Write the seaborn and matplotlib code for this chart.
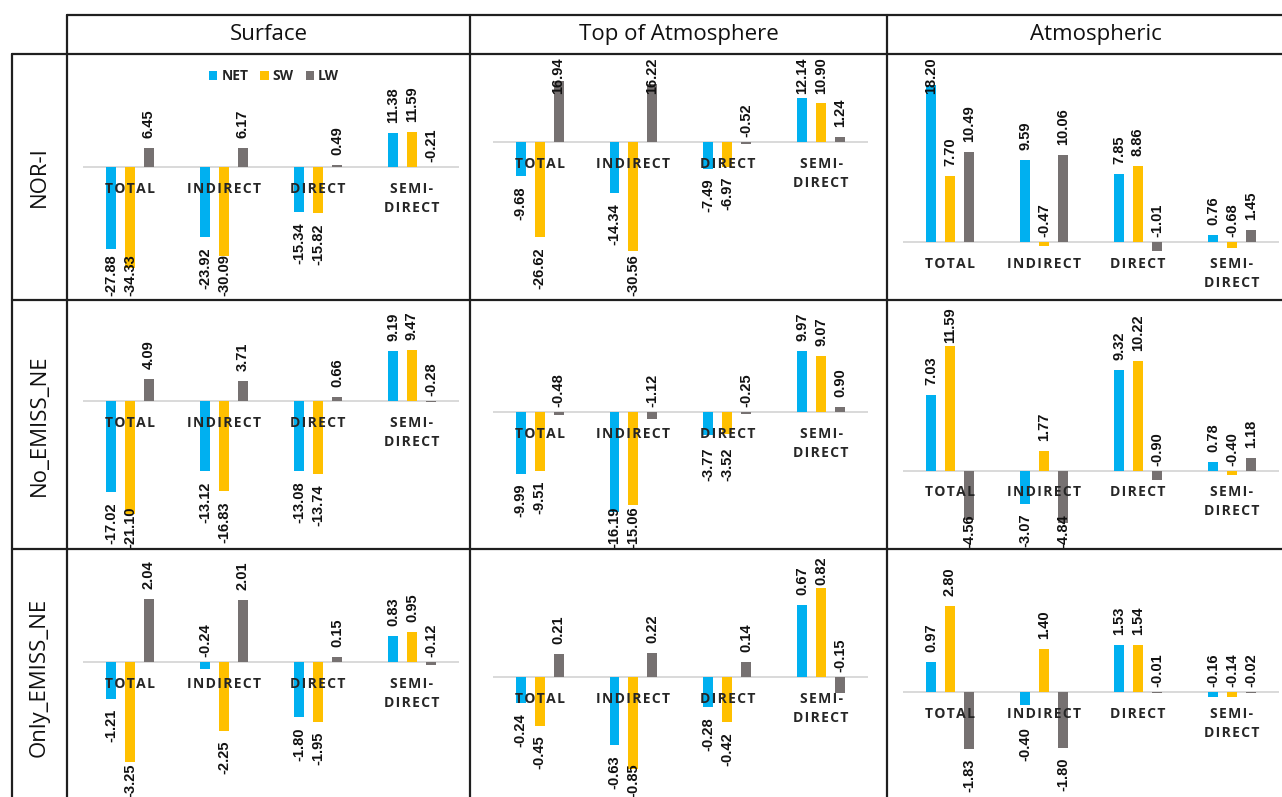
import matplotlib
matplotlib.use("Agg")
import matplotlib.pyplot as plt
import numpy as np
import pandas as pd
import seaborn as sns
from matplotlib.lines import Line2D
from matplotlib.patches import Patch

# ---------------------------------------------------------------- data
experiments = ["NOR-I", "No_EMISS_NE", "Only_EMISS_NE"]
levels = ["Surface", "Top of Atmosphere", "Atmospheric"]
categories = ["TOTAL", "INDIRECT", "DIRECT", "SEMI-DIRECT"]
components = ["NET", "SW", "LW"]

# radiative forcing (W m-2), order follows `categories`
nor_i_surface = {"NET": [-27.88, -23.92, -15.34, 11.38],
                 "SW": [-34.33, -30.09, -15.82, 11.59],
                 "LW": [6.45, 6.17, 0.49, -0.21]}
nor_i_toa = {"NET": [-9.68, -14.34, -7.49, 12.14],
             "SW": [-26.62, -30.56, -6.97, 10.90],
             "LW": [16.94, 16.22, -0.52, 1.24]}
nor_i_atm = {"NET": [18.20, 9.59, 7.85, 0.76],
             "SW": [7.70, -0.47, 8.86, -0.68],
             "LW": [10.49, 10.06, -1.01, 1.45]}

no_emiss_surface = {"NET": [-17.02, -13.12, -13.08, 9.19],
                    "SW": [-21.10, -16.83, -13.74, 9.47],
                    "LW": [4.09, 3.71, 0.66, -0.28]}
no_emiss_toa = {"NET": [-9.99, -16.19, -3.77, 9.97],
                "SW": [-9.51, -15.06, -3.52, 9.07],
                "LW": [-0.48, -1.12, -0.25, 0.90]}
no_emiss_atm = {"NET": [7.03, -3.07, 9.32, 0.78],
                "SW": [11.59, 1.77, 10.22, -0.40],
                "LW": [-4.56, -4.84, -0.90, 1.18]}

only_emiss_surface = {"NET": [-1.21, -0.24, -1.80, 0.83],
                      "SW": [-3.25, -2.25, -1.95, 0.95],
                      "LW": [2.04, 2.01, 0.15, -0.12]}
only_emiss_toa = {"NET": [-0.24, -0.63, -0.28, 0.67],
                  "SW": [-0.45, -0.85, -0.42, 0.82],
                  "LW": [0.21, 0.22, 0.14, -0.15]}
only_emiss_atm = {"NET": [0.97, -0.40, 1.53, -0.16],
                  "SW": [2.80, 1.40, 1.54, -0.14],
                  "LW": [-1.83, -1.80, -0.01, -0.02]}

panels = [[nor_i_surface, nor_i_toa, nor_i_atm],
          [no_emiss_surface, no_emiss_toa, no_emiss_atm],
          [only_emiss_surface, only_emiss_toa, only_emiss_atm]]

# value-axis range of each panel
y_limits = [[(-40, 20), (-40, 20), (-5, 20)],
            [(-25, 15), (-20, 15), (-6, 14)],
            [(-4, 3), (-1, 1), (-3, 4)]]

colors = {"NET": "#00B0F0", "SW": "#FFC000", "LW": "#767171"}

# ---------------------------------------------------------------- layout (pixels)
W, H = 1282, 797
COL_X = [(83, 459), (492.7, 868), (903, 1279)]
ROW_Y = [(70, 285), (320, 535), (569, 785)]
LEGEND_PLOT_TOP = 107.5
LABEL_BOUNDS = [(57, 296), (307, 548), (556, 797)]
FRAME_X = [12, 67, 470, 887]
FRAME_Y = [15, 54, 300, 549]
ROW_CENTERS = [177, 425, 677]
COL_CENTERS = [268.5, 678.5, 1096]

sns.set_style("white")
plt.rcParams["font.family"] = ["Open Sans", "DejaVu Sans"]
VAL_FONT = ["Liberation Sans", "DejaVu Sans"]
LINE_COLOR = "#1f1f1f"


def fx(x):
    return x / W


def fy(y):
    return 1 - y / H


def spaced(text):
    # widen the tracking of the category captions
    return "\n".join("\u200a".join(line) for line in text.split("\n"))


fig = plt.figure(figsize=(W / 100, H / 100), dpi=100)
fig.patch.set_facecolor("white")

value_labels = []
for r, exp in enumerate(experiments):
    for c, lev in enumerate(levels):
        data = panels[r][c]
        x0, x1 = COL_X[c]
        y0, y1 = ROW_Y[r]
        if r == 0 and c == 0:
            y0 = LEGEND_PLOT_TOP
        ax = fig.add_axes([fx(x0), fy(y1), (x1 - x0) / W, (y1 - y0) / H])
        df = pd.DataFrame({
            "effect": np.repeat(categories, len(components)),
            "component": components * len(categories),
            "value": [data[comp][i] for i in range(len(categories)) for comp in components],
        })
        ax.axhline(0, color="#D9D9D9", lw=1.4, zorder=0.5)
        sns.barplot(data=df, x="effect", y="value", hue="component",
                    order=categories, hue_order=components, palette=colors,
                    width=0.606, gap=0.475, saturation=1, errorbar=None,
                    linewidth=0, legend=False, ax=ax, zorder=2)
        ax.set_xlim(-0.5, 3.5)
        ax.set_ylim(*y_limits[r][c])
        ax.axis("off")

        # category captions just under the zero line
        captions = []
        for i, cat in enumerate(categories):
            cap = ax.annotate(spaced(cat.replace("-", "-\n")), xy=(i, 0), xytext=(0, -15),
                              textcoords="offset pixels", ha="center", va="top",
                              multialignment="center", linespacing=1.45,
                              fontsize=10, fontweight="bold", color="#262626",
                              annotation_clip=False, zorder=3)
            captions.append(cap)

        # value labels at the end of each bar
        y_zero = ax.transData.transform((0, 0))[1]
        for k, comp in enumerate(components):
            for i, bar in enumerate(ax.containers[k]):
                h = bar.get_height()
                cx = bar.get_x() + bar.get_width() / 2
                pix = abs(ax.transData.transform((0, h))[1] - y_zero)
                below = False
                if h >= 0:
                    xy, off, va = (cx, h), 10, "bottom"
                elif pix >= 11 and categories[i] != "SEMI-DIRECT":
                    xy, off, va = (cx, h), -10, "top"
                    below = True
                else:
                    xy, off, va = (cx, 0), 5, "bottom"
                ann = ax.annotate(f"{h:.2f}", xy=xy, xytext=(0, off),
                                  textcoords="offset pixels", rotation=90,
                                  ha="center", va=va, fontsize=10.5,
                                  fontweight="bold", family=VAL_FONT,
                                  color="#111111", annotation_clip=False,
                                  zorder=4)
                value_labels.append((ann, r, captions[i] if below else None))

        if r == 0 and c == 0:
            handles = [Patch(facecolor=colors[comp], edgecolor="none", label=comp)
                       for comp in components]
            fig.legend(handles=handles, loc="center",
                       bbox_to_anchor=(fx(274), fy(76)), ncol=3, frameon=False,
                       handlelength=0.6, handleheight=0.6, handletextpad=0.3,
                       columnspacing=0.85, borderaxespad=0, borderpad=0,
                       prop={"weight": "bold", "size": 10})

# keep value labels clear of the captions and inside their table row
fig.canvas.draw()
renderer = fig.canvas.get_renderer()
for ann, r, cap in value_labels:
    bb = ann.get_window_extent(renderer)
    dy = 0
    if cap is not None:
        cb = cap.get_window_extent(renderer)
        overlap_x = bb.x1 > cb.x0 and bb.x0 < cb.x1
        if overlap_x and bb.y1 > cb.y0 - 6:
            dy = (cb.y0 - 6) - bb.y1
    top_lim = H - LABEL_BOUNDS[r][0]
    bot_lim = H - LABEL_BOUNDS[r][1]
    if bb.y1 + dy > top_lim:
        dy = top_lim - bb.y1
    elif bb.y0 + dy < bot_lim:
        dy = bot_lim - bb.y0
    if dy:
        ann.xyann = (ann.xyann[0], ann.xyann[1] + dy)

# table frame
frame_kw = dict(color=LINE_COLOR, lw=1.6, transform=fig.transFigure)
segments = [
    ((FRAME_X[1], W), (FRAME_Y[0], FRAME_Y[0])),
    ((FRAME_X[0], W), (FRAME_Y[1], FRAME_Y[1])),
    ((FRAME_X[0], W), (FRAME_Y[2], FRAME_Y[2])),
    ((FRAME_X[0], W), (FRAME_Y[3], FRAME_Y[3])),
    ((FRAME_X[0], FRAME_X[0]), (FRAME_Y[1], H)),
    ((FRAME_X[1], FRAME_X[1]), (FRAME_Y[0], H)),
    ((FRAME_X[2], FRAME_X[2]), (FRAME_Y[0], H)),
    ((FRAME_X[3], FRAME_X[3]), (FRAME_Y[0], H)),
]
for xs, ys in segments:
    fig.add_artist(Line2D([fx(v) for v in xs], [fy(v) for v in ys], **frame_kw))

for c, lev in enumerate(levels):
    fig.text(fx(COL_CENTERS[c]), fy((FRAME_Y[0] + FRAME_Y[1]) / 2), lev,
             ha="center", va="center", fontsize=16, color="#111111")
for r, exp in enumerate(experiments):
    fig.text(fx((FRAME_X[0] + FRAME_X[1]) / 2), fy(ROW_CENTERS[r]), exp,
             ha="center", va="center", rotation=90, fontsize=16, color="#111111")

fig.savefig("out.png", dpi=100, facecolor="white")
